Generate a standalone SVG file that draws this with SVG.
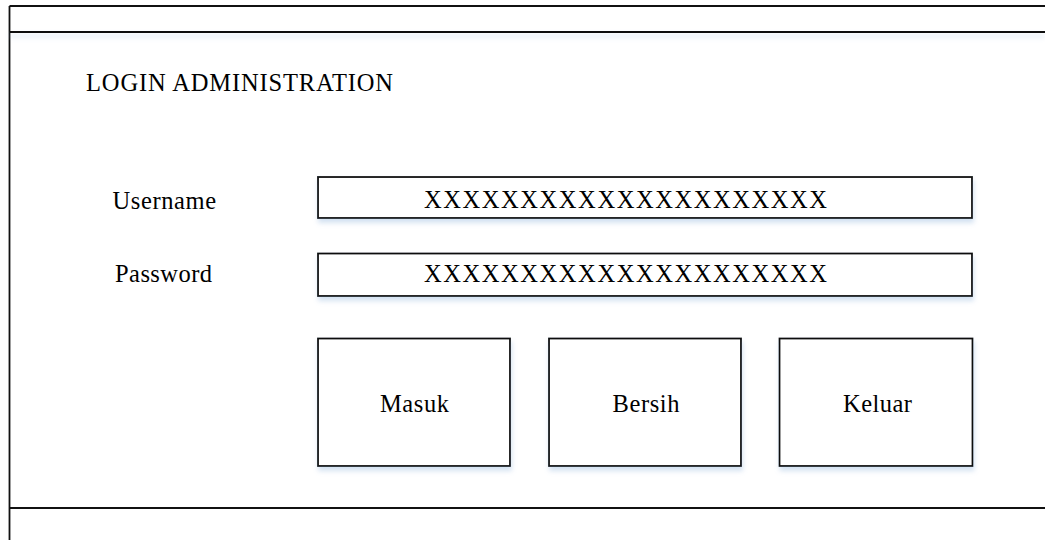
<svg xmlns="http://www.w3.org/2000/svg" width="1045" height="540" viewBox="0 0 1045 540">
<defs>
<filter id="sh" x="-5%" y="-20%" width="110%" height="150%">
<feGaussianBlur in="SourceAlpha" stdDeviation="2.5"/>
<feOffset dx="1" dy="4" result="b"/>
<feFlood flood-color="#9dbde0" flood-opacity="0.45"/>
<feComposite in2="b" operator="in"/>
<feMerge><feMergeNode/><feMergeNode in="SourceGraphic"/></feMerge>
</filter>
<filter id="shl" filterUnits="userSpaceOnUse" x="0" y="20" width="1045" height="30">
<feGaussianBlur in="SourceAlpha" stdDeviation="2.5"/>
<feOffset dx="0" dy="4" result="b"/>
<feFlood flood-color="#9dbde0" flood-opacity="0.45"/>
<feComposite in2="b" operator="in"/>
<feMerge><feMergeNode/><feMergeNode in="SourceGraphic"/></feMerge>
</filter>
</defs>
<style>
.box{fill:#fff;stroke:#111;stroke-width:1.8}
.ln{stroke:#111;stroke-width:1.8;fill:none}
.t{font-family:"Liberation Serif","Times New Roman",serif;font-size:24.5px;fill:#000}
</style>
<rect x="0" y="0" width="1045" height="540" fill="#fff"/>
<g id="frame">
<line class="ln" x1="9.5" y1="6" x2="9.5" y2="540"/>
<line class="ln" x1="9.5" y1="6" x2="1045" y2="6"/>
<line class="ln" x1="9.5" y1="32" x2="1045" y2="32" filter="url(#shl)"/>
<line class="ln" x1="9.5" y1="508" x2="1045" y2="508"/>
</g>
<g id="title"><text class="t" x="86" y="91" textLength="307">LOGIN ADMINISTRATION</text></g>
<g id="username-label"><text class="t" x="112.5" y="209" textLength="103.5">Username</text></g>
<g id="password-label"><text class="t" x="115" y="282" textLength="97">Password</text></g>
<g id="username-field">
<rect class="box" x="318" y="177" width="654" height="41" filter="url(#sh)"/>
<text class="t" x="424" y="207.5" textLength="403">XXXXXXXXXXXXXXXXXXXXX</text>
</g>
<g id="password-field">
<rect class="box" x="318" y="253.5" width="654" height="42.5" filter="url(#sh)"/>
<text class="t" x="424" y="282" textLength="403">XXXXXXXXXXXXXXXXXXXXX</text>
</g>
<g id="btn-masuk">
<rect class="box" x="318" y="338.5" width="192" height="127.5" filter="url(#sh)"/>
<text class="t" x="380" y="411.5" textLength="69">Masuk</text>
</g>
<g id="btn-bersih">
<rect class="box" x="549" y="338.5" width="192" height="127.5" filter="url(#sh)"/>
<text class="t" x="612.5" y="411.5" textLength="67">Bersih</text>
</g>
<g id="btn-keluar">
<rect class="box" x="779.5" y="338.5" width="193" height="127.5" filter="url(#sh)"/>
<text class="t" x="843" y="411.5" textLength="69">Keluar</text>
</g>
<g id="connectors"/>
</svg>
